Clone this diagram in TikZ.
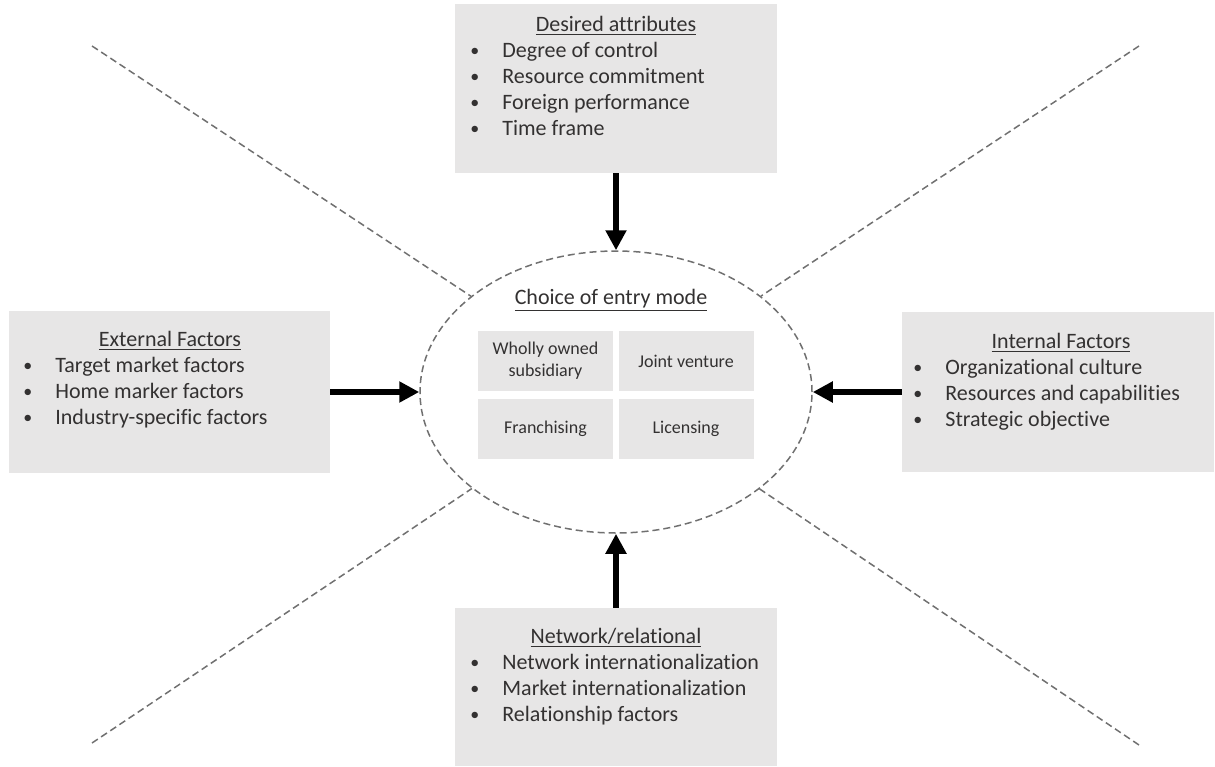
\documentclass[tikz,border=0pt]{standalone}
\usepackage{fontspec}
\setmainfont{Carlito}[RawFeature={-liga;-clig;-calt;-dlig}]
\usetikzlibrary{arrows.meta,shapes.geometric}
\definecolor{boxgray}{HTML}{E7E6E6}
\definecolor{txtgray}{HTML}{333131}
\definecolor{dashgray}{HTML}{707070}
\newcommand{\bulletitem}[1]{\makebox[16pt][l]{\raisebox{0.4pt}{\fontsize{9}{9}\selectfont\textbullet}}#1}

\begin{document}
\begin{tikzpicture}[
  x=0.5pt, y=-0.5pt,
  factorbox/.style={rectangle, fill=boxgray, inner sep=0pt},
  modecell/.style={rectangle, fill=boxgray, minimum width=67.5pt, minimum height=30pt, inner sep=0pt, align=center, text=txtgray, font=\fontsize{9}{11}\selectfont},
  boxtitle/.style={anchor=base, inner sep=0pt, text=txtgray, font=\fontsize{11}{13}\selectfont},
  boxlist/.style={anchor=base west, inner sep=0pt, text=txtgray, font=\fontsize{11}{13}\selectfont},
  bigarrow/.style={-{Triangle[length=10pt,width=10pt]}, line width=3.2pt},
  rayline/.style={draw=dashgray, line width=0.75pt, dash pattern=on 3.5pt off 2pt},
]
\useasboundingbox (0,0) rectangle (1215,766);

% ══ Centre: choice of entry mode ══
\node[ellipse, rayline, minimum width=196pt, minimum height=141pt, inner sep=0pt] (choice) at (616,392) {};
\node[boxtitle] (choicet) at (611,304) {\underline{Choice of entry mode}};

\node[modecell] (wholly) at (545.5,361) {Wholly owned\\subsidiary};
\node[modecell] (joint) at (686,361) {Joint venture};
\node[modecell] (franch) at (545.5,428.5) {Franchising};
\node[modecell] (licen) at (686,428.5) {Licensing};

% ══ Desired attributes (top) ══
\node[factorbox, minimum width=161pt, minimum height=84.5pt] (attr) at (616,88.5) {};
\node[boxtitle] (attrt) at (616,31) {\underline{Desired attributes}};
\node[boxlist] (attrl) at (470,57) {\begin{tabular}[t]{@{}l@{}}
  \bulletitem{Degree of control}\\
  \bulletitem{Resource commitment}\\
  \bulletitem{Foreign performance}\\
  \bulletitem{Time frame}
\end{tabular}};

% ══ External factors (left) ══
\node[factorbox, minimum width=160.5pt, minimum height=81pt] (ext) at (169.5,392) {};
\node[boxtitle] (extt) at (170,346) {\underline{External Factors}};
\node[boxlist] (extl) at (23,372) {\begin{tabular}[t]{@{}l@{}}
  \bulletitem{Target market factors}\\
  \bulletitem{Home marker factors}\\
  \bulletitem{Industry-specific factors}
\end{tabular}};

% ══ Internal factors (right) ══
\node[factorbox, minimum width=156pt, minimum height=80pt] (int) at (1058,392) {};
\node[boxtitle] (intt) at (1061,348) {\underline{Internal Factors}};
\node[boxlist] (intl) at (913,374) {\begin{tabular}[t]{@{}l@{}}
  \bulletitem{Organizational culture}\\
  \bulletitem{Resources and capabilities}\\
  \bulletitem{Strategic objective}
\end{tabular}};

% ══ Network/relational (bottom) ══
\node[factorbox, minimum width=161pt, minimum height=79pt] (net) at (616,687) {};
\node[boxtitle] (nett) at (616,643) {\underline{Network/relational}};
\node[boxlist] (netl) at (470,669) {\begin{tabular}[t]{@{}l@{}}
  \bulletitem{Network internationalization}\\
  \bulletitem{Market internationalization}\\
  \bulletitem{Relationship factors}
\end{tabular}};

% ══ Arrows into the centre ══
\draw[bigarrow] (attr) -- (choice);
\draw[bigarrow] (ext) -- (choice);
\draw[bigarrow] (int) -- (choice);
\draw[bigarrow] (net) -- (choice);

% ══ Dashed rays ══
\coordinate (raytl) at (92,46);
\coordinate (raytr) at (1139,46);
\coordinate (raybl) at (92,743);
\coordinate (raybr) at (1139,745);
\draw[rayline] (raytl) -- (choice);
\draw[rayline] (raytr) -- (choice);
\draw[rayline] (raybl) -- (choice);
\draw[rayline] (raybr) -- (choice);

\end{tikzpicture}
\end{document}
